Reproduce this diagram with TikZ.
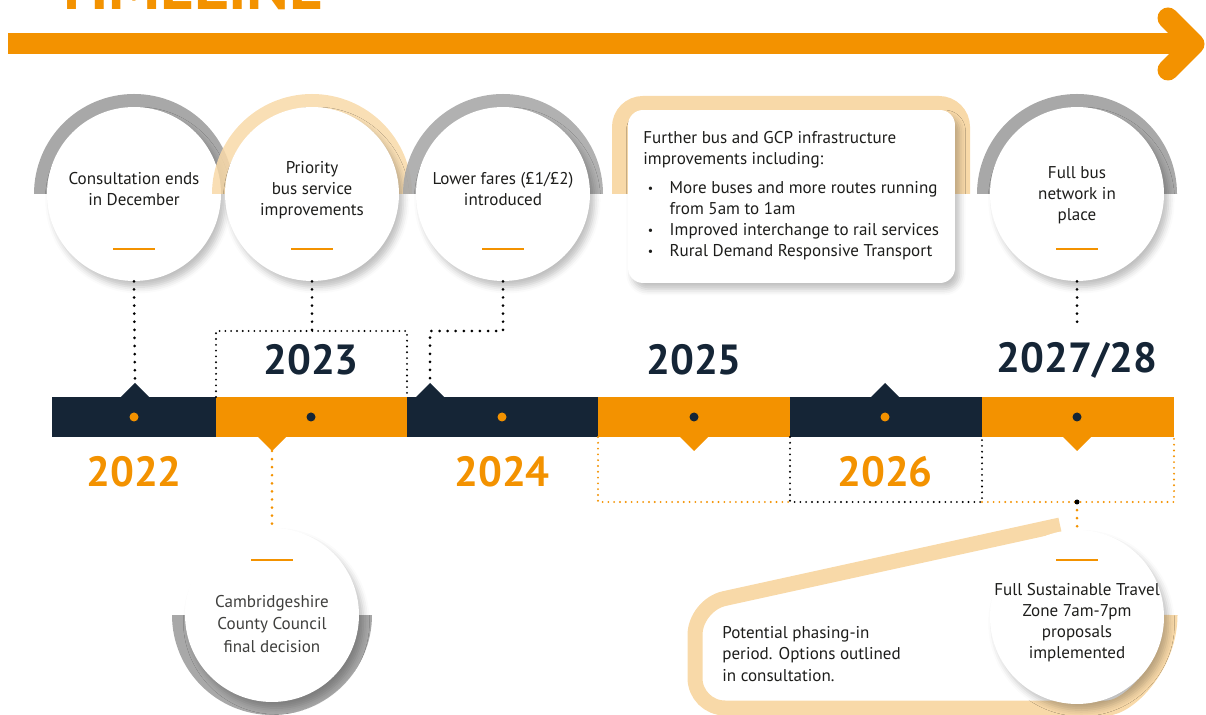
\documentclass[tikz,border=0pt]{standalone}
\usepackage{fontspec}
\setmainfont{PT Sans}
\usepackage{xcolor}
\usepackage{tikz}
\usetikzlibrary{shadows.blur}

\definecolor{tlorange}{HTML}{F39200}
\definecolor{tlnavy}{HTML}{152536}
\definecolor{tlpeach}{HTML}{F8D9A8}
\definecolor{tlgray}{HTML}{A8A8A8}
\definecolor{tltext}{HTML}{1D1D1B}

\newcommand{\bul}{\makebox[15pt][l]{\hspace{2.5pt}\raisebox{0.15ex}{\scalebox{0.7}{\textbullet}}}}

\begin{document}
\begin{tikzpicture}[x=0.02cm, y=0.02cm,
  disc/.style={circle, fill=white, minimum size=3.48cm, inner sep=0pt,
    blur shadow={shadow xshift=2.5pt, shadow yshift=-3.5pt,
      shadow blur radius=3.5pt, shadow opacity=25}},
  lbl/.style={align=center, text=tltext, inner sep=0pt,
    font=\fontsize{9.7}{12}\selectfont},
  yeardark/.style={text=tlnavy, font=\fontsize{24}{28}\selectfont\bfseries},
  yearorange/.style={text=tlorange, font=\fontsize{24}{28}\selectfont\bfseries},
  bigdots/.style={line width=1.7pt, line cap=round, dash pattern=on 0pt off 4.6pt},
  smalldots/.style={line width=1.2pt, line cap=round, dash pattern=on 0pt off 3.3pt},
  dashbar/.style={tlorange, line width=1.7pt}]

  \useasboundingbox (0,0) rectangle (1206,-715);
  \clip (0,0) rectangle (1206,-715);

  % Title and arrow
  \node[text=tlorange, font=\fontsize{37}{37}\selectfont\bfseries,
        anchor=base west, inner sep=0pt] (title) at (53,-10) {TIMELINE};
  \draw[tlorange, line width=0.42cm] (8,-44) -- (1194,-44);
  \draw[tlorange, line width=0.42cm, line cap=round, line join=round]
        (1168,-18) -- (1194,-44) -- (1168,-70);

  % Timeline segments
  \fill[tlnavy]   (52,-397)  rectangle (216,-437);
  \fill[tlorange] (216,-397) rectangle (407,-437);
  \fill[tlnavy]   (407,-397) rectangle (598,-437);
  \fill[tlorange] (598,-397) rectangle (790,-437);
  \fill[tlnavy]   (790,-397) rectangle (982,-437);
  \fill[tlorange] (982,-397) rectangle (1174,-437);

  % Segment dots
  \fill[tlorange] (134,-417)  circle (4.5);
  \fill[tlnavy]   (311,-417)  circle (4.5);
  \fill[tlorange] (502,-417)  circle (4.5);
  \fill[tlnavy]   (694,-417)  circle (4.5);
  \fill[tlorange] (885,-417)  circle (4.5);
  \fill[tlnavy]   (1077,-417) circle (4.5);

  % Notches
  \coordinate (t22) at (135,-383);
  \coordinate (t23) at (272,-451);
  \coordinate (t24) at (430,-383);
  \coordinate (t25) at (694,-451);
  \coordinate (t26) at (885,-383);
  \coordinate (t27) at (1077,-451);
  \fill[tlnavy]   (120,-398) -- (t22) -- (150,-398) -- cycle;
  \fill[tlorange] (257,-436) -- (t23) -- (287,-436) -- cycle;
  \fill[tlnavy]   (415,-398) -- (t24) -- (445,-398) -- cycle;
  \fill[tlorange] (679,-436) -- (t25) -- (709,-436) -- cycle;
  \fill[tlnavy]   (870,-398) -- (t26) -- (900,-398) -- cycle;
  \fill[tlorange] (1062,-436) -- (t27) -- (1092,-436) -- cycle;

  % Years
  \node[yearorange] (y22) at (134,-472)  {2022};
  \node[yeardark]   (y23) at (311,-360)  {2023};
  \node[yearorange] (y24) at (502,-472)  {2024};
  \node[yeardark]   (y25) at (694,-360)  {2025};
  \node[yearorange] (y26) at (885,-472)  {2026};
  \node[yeardark]   (y27) at (1077,-360) {2027/28};

  % Top circles
  \fill[tlgray] (34,-194) arc[start angle=180, end angle=0, radius=100]
        -- ++(-14,0) arc[start angle=0, end angle=180, radius=86] -- cycle;
  \node[disc] (cons) at (134,-194) {};
  \node[lbl] (cons-t) at (134,-189) {Consultation ends\\in December};
  \draw[dashbar] (113,-249) -- (155,-249);

  \fill[tlpeach, opacity=0.85] (212,-194) arc[start angle=180, end angle=0, radius=100]
        -- ++(-14,0) arc[start angle=0, end angle=180, radius=86] -- cycle;
  \node[disc] (prio) at (312,-194) {};
  \node[lbl] (prio-t) at (312,-190) {Priority\\bus service\\improvements};
  \draw[dashbar] (291,-249) -- (333,-249);

  \fill[tlgray, opacity=0.9] (403,-194) arc[start angle=180, end angle=0, radius=100]
        -- ++(-14,0) arc[start angle=0, end angle=180, radius=86] -- cycle;
  \node[disc] (fare) at (503,-194) {};
  \node[lbl] (fare-t) at (503,-189) {Lower fares (£1/£2)\\introduced};
  \draw[dashbar] (482,-249) -- (524,-249);

  \fill[tlgray] (977,-194) arc[start angle=180, end angle=0, radius=100]
        -- ++(-14,0) arc[start angle=0, end angle=180, radius=86] -- cycle;
  \node[disc] (net) at (1077,-194) {};
  \node[lbl] (net-t) at (1077,-195) {Full bus\\network in\\place};
  \draw[dashbar] (1056,-249) -- (1098,-249);

  % Infrastructure panel
  \draw[tlpeach, line width=0.32cm, rounded corners=0.46cm]
        (620,-194) -- (620,-104) -- (962,-104) -- (962,-194);
  \node[rectangle, fill=white, rounded corners=0.3cm, minimum width=6.54cm,
        minimum height=3.46cm,
        blur shadow={shadow xshift=2.5pt, shadow yshift=-3.5pt,
          shadow blur radius=3.5pt, shadow opacity=25}] (furth) at (791.5,-196.5) {};
  \node[lbl, align=left, anchor=north west] (furth-t) at (643,-131)
        {Further bus and GCP infrastructure\\
         improvements including:\\[4.5pt]
         \bul More buses and more routes running\\
         \hspace*{15pt}from 5am to 1am\\
         \bul Improved interchange to rail services\\
         \bul Rural Demand Responsive Transport};

  % Connectors above the line
  \coordinate (k23) at (312,-331);
  \coordinate (k24) at (430,-331);
  \coordinate (b23l) at (216,-397);
  \coordinate (b23r) at (407,-397);
  \draw[bigdots, black] (cons.south) -- (t22);
  \draw[bigdots, black] (prio.south) -- (k23);
  \draw[smalldots, black] (b23l) |- (b23r |- k23) -- (b23r);
  \draw[bigdots, black] (fare.south) |- (k24) -- (t24);
  \draw[bigdots, black] (net.south) -- (1077,-328);

  % Brackets below the line
  \coordinate (b25l) at (598,-437);
  \coordinate (b26l) at (790,-437);
  \coordinate (b26r) at (982,-437);
  \coordinate (b27r) at (1174,-437);
  \coordinate (k27) at (1077,-502);
  \draw[smalldots, tlorange] (b25l) |- (790,-502);
  \draw[smalldots, black] (b26l) |- (982,-502) -- (b26r);
  \draw[smalldots, tlorange] (982,-502) -| (b27r);

  % Bottom circles
  \fill[tlgray] (172,-615) arc[start angle=180, end angle=360, radius=100]
        -- ++(-14,0) arc[start angle=0, end angle=-180, radius=86] -- cycle;
  \node[disc] (ccc) at (272,-615) {};
  \node[lbl, text=tltext!85, font=\fontsize{9.7}{13}\selectfont] (ccc-t) at (272,-624)
        {Cambridgeshire\\County Council\\final decision};
  \draw[dashbar] (251,-560) -- (293,-560);

  \draw[tlpeach, line width=0.3cm, rounded corners=0.6cm]
        (1060,-525) -- (695,-605) -- (695,-708) -- (1077,-708)
        arc[start angle=-90, end angle=0, radius=93];
  \node[disc] (stz) at (1077,-617) {};
  \node[lbl] (stz-t) at (1077,-623)
        {Full Sustainable Travel\\Zone 7am-7pm\\proposals\\implemented};
  \draw[dashbar] (1056,-560) -- (1098,-560);
  \node[lbl, align=left, anchor=west] (phase) at (722,-654)
        {Potential phasing-in\\period. Options outlined\\in consultation.};

  % Connectors below the line
  \draw[bigdots, tlorange] (t23) -- (ccc.north);
  \draw[bigdots, tlorange] (k27) -- (stz.north);
  \fill[black] (k27) circle (2.5);
\end{tikzpicture}
\end{document}
